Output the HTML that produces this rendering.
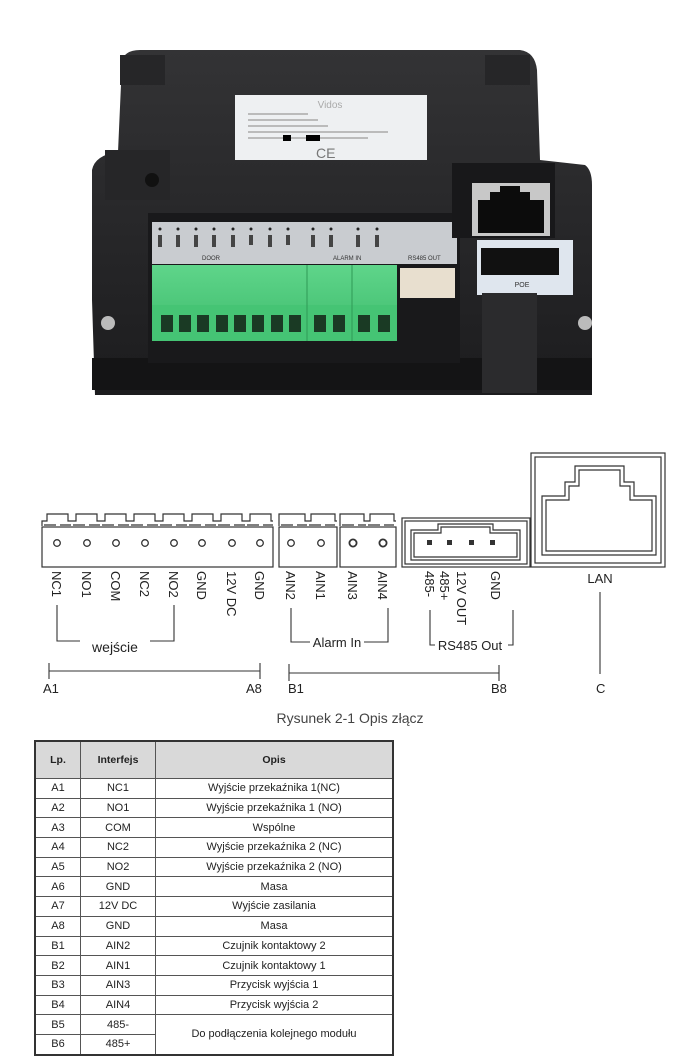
<!DOCTYPE html>
<html><head><meta charset="utf-8"><style>
html,body{margin:0;padding:0;background:#fff;}
body{width:695px;height:1063px;position:relative;overflow:hidden;font-family:"Liberation Sans",sans-serif;}
table{position:absolute;left:34px;top:740px;width:360px;border-collapse:collapse;font-family:"Liberation Sans","DejaVu Sans",sans-serif;font-size:11px;color:#222;border:2px solid #333;}
td,th{border:1px solid #555;text-align:center;padding:0;height:18.7px;}
th{background:#d9d9d9;height:36px;font-weight:bold;font-size:10.5px;}
</style></head><body>
<svg width="695" height="1063" style="position:absolute;left:0;top:0" xmlns="http://www.w3.org/2000/svg">
<defs>
<linearGradient id="bd" x1="0" y1="0" x2="0" y2="1"><stop offset="0" stop-color="#333335"/><stop offset="1" stop-color="#1c1c1e"/></linearGradient>
<linearGradient id="gr" x1="0" y1="0" x2="0" y2="1"><stop offset="0" stop-color="#5fd58a"/><stop offset="1" stop-color="#3dbb6c"/></linearGradient>
</defs>
<path d="M122 62 Q124 50 140 50 L520 50 Q535 52 537 70 L540 160 L585 165 Q592 170 592 185 L592 395 L95 395 L92 300 L92 170 Q95 155 118 152 Z" fill="url(#bd)"/>
<rect x="92" y="358" width="500" height="32" fill="#141415"/>
<rect x="120" y="55" width="45" height="30" fill="#262628"/>
<rect x="485" y="55" width="45" height="30" fill="#262628"/>
<rect x="105" y="150" width="65" height="50" fill="#262628"/>
<circle cx="152" cy="180" r="7" fill="#111"/>
<rect x="235" y="95" width="192" height="65" fill="#eef0f2"/>
<text x="330" y="108" font-size="10" fill="#aaa" text-anchor="middle">Vidos</text>
<g fill="#bbb"><rect x="248" y="113" width="60" height="2"/><rect x="248" y="119" width="70" height="2"/><rect x="248" y="125" width="80" height="2"/><rect x="248" y="131" width="140" height="2"/><rect x="248" y="137" width="120" height="2"/></g>
<rect x="283" y="135" width="8" height="6" fill="#000"/><rect x="306" y="135" width="14" height="6" fill="#000"/>
<text x="316" y="158" font-size="14" fill="#777">CE</text>
<rect x="148" y="213" width="312" height="150" fill="#19191b"/>
<rect x="152" y="222" width="305" height="42" fill="#c9ccd0"/>
<g fill="#222"><circle cx="160" cy="229" r="1.5"/><circle cx="178" cy="229" r="1.5"/><circle cx="196" cy="229" r="1.5"/><circle cx="214" cy="229" r="1.5"/><circle cx="233" cy="229" r="1.5"/><circle cx="251" cy="229" r="1.5"/><circle cx="270" cy="229" r="1.5"/><circle cx="288" cy="229" r="1.5"/><circle cx="313" cy="229" r="1.5"/><circle cx="331" cy="229" r="1.5"/><circle cx="358" cy="229" r="1.5"/><circle cx="377" cy="229" r="1.5"/></g>
<g fill="#444"><rect x="158" y="235" width="4" height="12"/><rect x="176" y="235" width="4" height="12"/><rect x="194" y="235" width="4" height="12"/><rect x="212" y="235" width="4" height="12"/><rect x="231" y="235" width="4" height="12"/><rect x="249" y="235" width="4" height="10"/><rect x="268" y="235" width="4" height="12"/><rect x="286" y="235" width="4" height="10"/><rect x="311" y="235" width="4" height="12"/><rect x="329" y="235" width="4" height="12"/><rect x="356" y="235" width="4" height="12"/><rect x="375" y="235" width="4" height="12"/></g>
<text x="202" y="260" font-size="6" fill="#333">DOOR</text><text x="333" y="260" font-size="6" fill="#333">ALARM IN</text><text x="408" y="260" font-size="6" fill="#333">RS485 OUT</text>
<rect x="152" y="265" width="245" height="76" fill="url(#gr)"/>
<rect x="152" y="305" width="245" height="36" fill="#45c474"/>
<line x1="307" y1="265" x2="307" y2="341" stroke="#2f9a56"/><line x1="352" y1="265" x2="352" y2="341" stroke="#2f9a56"/>
<g fill="#1a3a24"><rect x="161" y="315" width="12" height="17"/><rect x="179" y="315" width="12" height="17"/><rect x="197" y="315" width="12" height="17"/><rect x="216" y="315" width="12" height="17"/><rect x="234" y="315" width="12" height="17"/><rect x="252" y="315" width="12" height="17"/><rect x="271" y="315" width="12" height="17"/><rect x="289" y="315" width="12" height="17"/><rect x="314" y="315" width="12" height="17"/><rect x="333" y="315" width="12" height="17"/><rect x="358" y="315" width="12" height="17"/><rect x="378" y="315" width="12" height="17"/></g>
<rect x="400" y="268" width="55" height="30" fill="#e8dfcf"/>
<rect x="452" y="163" width="103" height="75" fill="#18181a"/>
<rect x="472" y="183" width="78" height="53" fill="#c8c8c8"/>
<path d="M478 233 V200 H490 V192 H500 V186 H520 V192 H530 V200 H544 V233 Z" fill="#0c0c0c"/>
<rect x="477" y="240" width="96" height="55" fill="#dfe6ee"/>
<rect x="481" y="248" width="78" height="27" fill="#111"/>
<text x="522" y="287" font-size="7" fill="#333" text-anchor="middle">POE</text>
<rect x="482" y="293" width="55" height="100" fill="#2b2b2d"/>
<circle cx="108" cy="323" r="7" fill="#bbb"/><circle cx="585" cy="323" r="7" fill="#bbb"/>

<g fill="none" stroke="#333" stroke-width="1.2">
<rect x="42" y="527" width="231" height="40"/>
<rect x="279" y="527" width="58" height="40"/>
<rect x="340" y="527" width="56" height="40"/>
<path d="M42 526 V521 H47 V514 H68 V521 H73 M44 525 H56 M60 525 H71 M73 521 H76 V514 H97 V521 H102 M73 525 H85 M89 525 H100 M102 521 H105 V514 H126 V521 H131 M102 525 H114 M118 525 H129 M131 521 H134 V514 H155 V521 H160 M131 525 H143 M147 525 H158 M160 521 H163 V514 H184 V521 H189 M160 525 H172 M176 525 H187 M189 521 H192 V514 H213 V521 H218 M189 525 H201 M205 525 H216 M218 521 H221 V514 H242 V521 H247 M218 525 H230 M234 525 H245 M247 521 H250 V514 H271 V521 H273 M247 525 H259 M263 525 H273"/>
<path d="M279 526 V514 H305 V521 H309 M281 525 H293 M297 525 H307 M309 521 H311 V514 H335 V521 H337 M309 525 H321 M325 525 H335"/>
<path d="M340 526 V514 H364 V521 H368 M342 525 H354 M358 525 H366 M368 521 H370 V514 H394 V521 H396 M368 525 H380 M384 525 H394"/>
<rect x="402" y="518" width="128" height="49"/>
<rect x="405" y="521" width="122" height="43"/>
<path d="M411 560 V530 H438 V524 H493 V530 H520 V560 Z"/>
<path d="M414 557 V533 H441 V527 H490 V533 H517 V557 Z"/>
<rect x="531" y="453" width="134" height="114"/>
<rect x="535" y="457" width="126" height="106"/>
<path d="M542 555 V496 H565 V482 H575 V466 H624 V482 H634 V496 H656 V555 Z"/>
<path d="M546 551 V500 H569 V486 H579 V470 H620 V486 H630 V500 H652 V551 Z"/>
</g>
<g fill="none" stroke="#333" stroke-width="1.3">
<circle cx="57" cy="543" r="3.3"/><circle cx="87" cy="543" r="3.3"/><circle cx="116" cy="543" r="3.3"/><circle cx="145" cy="543" r="3.3"/><circle cx="174" cy="543" r="3.3"/><circle cx="202" cy="543" r="3.3"/><circle cx="232" cy="543" r="3.3"/><circle cx="260" cy="543" r="3.3"/>
<circle cx="291" cy="543" r="3.3"/><circle cx="321" cy="543" r="3.3"/>
<circle cx="353" cy="543" r="3.6" stroke-width="1.8"/><circle cx="383" cy="543" r="3.6" stroke-width="1.8"/>
</g>
<g fill="#333"><rect x="427" y="540" width="5" height="5"/><rect x="447" y="540" width="5" height="5"/><rect x="469" y="540" width="5" height="5"/><rect x="490" y="540" width="5" height="5"/></g>
<g font-size="13" fill="#222" font-family="Liberation Sans, sans-serif">
<g transform="translate(52,571) rotate(90)"><text>NC1</text></g>
<g transform="translate(82,571) rotate(90)"><text>NO1</text></g>
<g transform="translate(111,571) rotate(90)"><text>COM</text></g>
<g transform="translate(140,571) rotate(90)"><text>NC2</text></g>
<g transform="translate(169,571) rotate(90)"><text>NO2</text></g>
<g transform="translate(197,571) rotate(90)"><text>GND</text></g>
<g transform="translate(227,571) rotate(90)"><text>12V DC</text></g>
<g transform="translate(255,571) rotate(90)"><text>GND</text></g>
<g transform="translate(286,571) rotate(90)"><text>AIN2</text></g>
<g transform="translate(316,571) rotate(90)"><text>AIN1</text></g>
<g transform="translate(348,571) rotate(90)"><text>AIN3</text></g>
<g transform="translate(378,571) rotate(90)"><text>AIN4</text></g>
<g transform="translate(425,571) rotate(90)"><text>485-</text></g>
<g transform="translate(440,571) rotate(90)"><text>485+</text></g>
<g transform="translate(457,571) rotate(90)"><text>12V OUT</text></g>
<g transform="translate(491,571) rotate(90)"><text>GND</text></g>
<text x="600" y="583" text-anchor="middle">LAN</text>
<text x="115" y="652" text-anchor="middle" font-size="14">wejście</text>
<text x="337" y="647" text-anchor="middle">Alarm In</text>
<text x="470" y="650" text-anchor="middle">RS485 Out</text>
<text x="43" y="693">A1</text><text x="246" y="693">A8</text>
<text x="288" y="693">B1</text><text x="491" y="693">B8</text>
<text x="596" y="693">C</text>
</g>
<g fill="none" stroke="#333" stroke-width="1.1">
<path d="M57 605 V641 H80 M150 641 H174 V605"/>
<path d="M291 608 V642 H310 M364 642 H388 V608"/>
<path d="M430 610 V645 H435 M508 645 H513 V610"/>
<path d="M600 592 V674"/>
<path d="M49 663 V679 M49 671 H260 M260 663 V679"/>
<path d="M289 664 V681 M289 673 H499 M499 665 V681"/>
</g>
<text x="350" y="723" text-anchor="middle" font-size="14" fill="#444" font-family="Liberation Sans, sans-serif">Rysunek 2-1 Opis złącz</text>
</svg>
<table>
<tr><th style="width:44px">Lp.</th><th style="width:74px">Interfejs</th><th>Opis</th></tr>
<tr><td>A1</td><td>NC1</td><td>Wyjście przekaźnika 1(NC)</td></tr>
<tr><td>A2</td><td>NO1</td><td>Wyjście przekaźnika 1 (NO)</td></tr>
<tr><td>A3</td><td>COM</td><td>Wspólne</td></tr>
<tr><td>A4</td><td>NC2</td><td>Wyjście przekaźnika 2 (NC)</td></tr>
<tr><td>A5</td><td>NO2</td><td>Wyjście przekaźnika 2 (NO)</td></tr>
<tr><td>A6</td><td>GND</td><td>Masa</td></tr>
<tr><td>A7</td><td>12V DC</td><td>Wyjście zasilania</td></tr>
<tr><td>A8</td><td>GND</td><td>Masa</td></tr>
<tr><td>B1</td><td>AIN2</td><td>Czujnik kontaktowy 2</td></tr>
<tr><td>B2</td><td>AIN1</td><td>Czujnik kontaktowy 1</td></tr>
<tr><td>B3</td><td>AIN3</td><td>Przycisk wyjścia 1</td></tr>
<tr><td>B4</td><td>AIN4</td><td>Przycisk wyjścia 2</td></tr>
<tr><td>B5</td><td>485-</td><td rowspan="2">Do podłączenia kolejnego modułu</td></tr>
<tr><td>B6</td><td>485+</td></tr>
</table>
</body></html>
